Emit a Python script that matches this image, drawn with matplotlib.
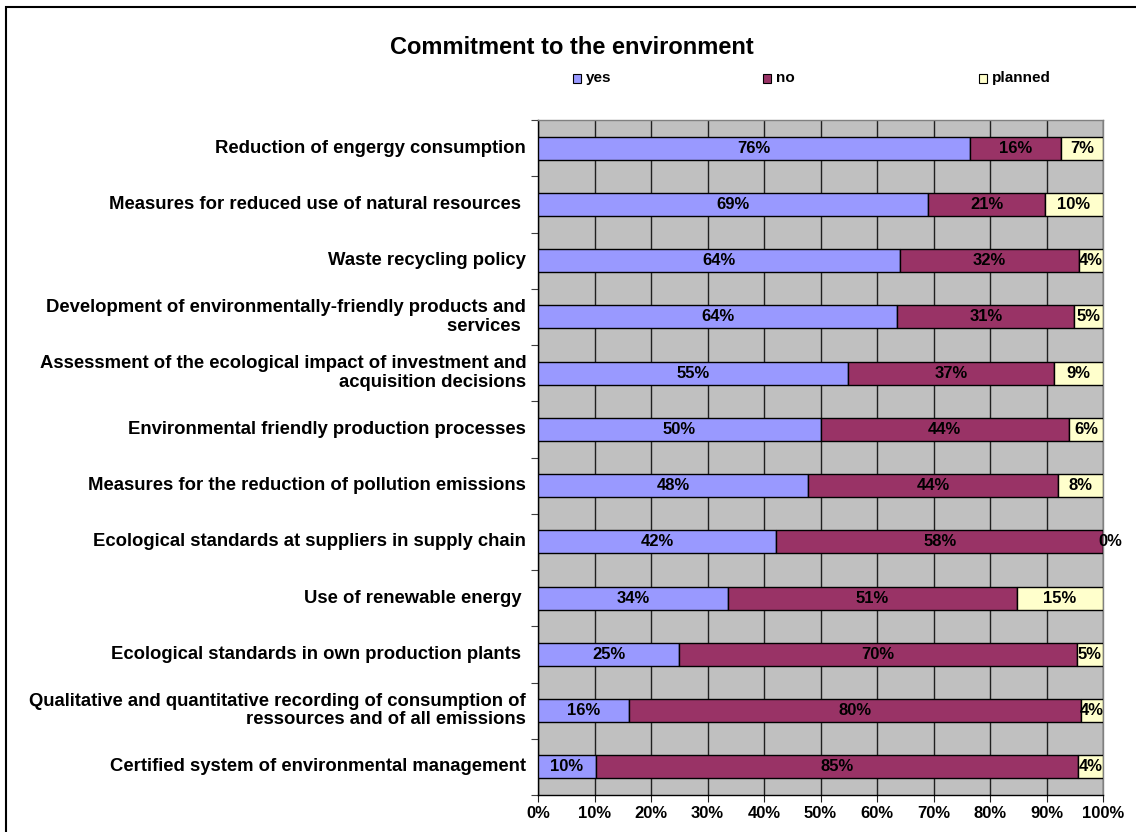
import matplotlib
matplotlib.use("Agg")
import matplotlib.pyplot as plt
from matplotlib.patches import Rectangle
import numpy as np

plt.rcParams['font.family'] = ['Liberation Sans', 'DejaVu Sans']

categories = [
    "Reduction of engergy consumption",
    "Measures for reduced use of natural resources ",
    "Waste recycling policy",
    "Development of environmentally-friendly products and\nservices ",
    "Assessment of the ecological impact of investment and\nacquisition decisions",
    "Environmental friendly production processes",
    "Measures for the reduction of pollution emissions",
    "Ecological standards at suppliers in supply chain",
    "Use of renewable energy ",
    "Ecological standards in own production plants ",
    "Qualitative and quantitative recording of consumption of\nressources and of all emissions",
    "Certified system of environmental management",
]
yes_share = [76.4, 69.1, 64.1, 63.6, 54.8, 50.0, 47.8, 42.2, 33.6, 25.0, 16.1, 10.2]
no_share = [16.2, 20.6, 31.6, 31.3, 36.6, 44.0, 44.3, 57.8, 51.2, 70.4, 80.0, 85.4]
planned_share = [7.4, 10.3, 4.3, 5.1, 8.6, 6.0, 7.9, 0.0, 15.2, 4.6, 3.9, 4.4]
series_names = ["yes", "no", "planned"]
series_colors = ["#9999FF", "#993366", "#FFFFCC"]
x_ticks = [0, 10, 20, 30, 40, 50, 60, 70, 80, 90, 100]

W, H = 1136, 832
fig = plt.figure(figsize=(W / 100, H / 100), dpi=100)
fig.patch.set_facecolor("white")

# outer chart frame
fig.patches.append(Rectangle((6 / W, -0.05), 1.2, 1 - 7 / H + 0.05,
                             transform=fig.transFigure, fill=False,
                             edgecolor="black", linewidth=1.5))

left, right, top, bottom = 538 / W, 1103 / W, 1 - 120 / H, 1 - 795 / H
ax = fig.add_axes([left, bottom, right - left, top - bottom])
ax.set_facecolor("#C0C0C0")

n = len(categories)
y = np.arange(n)
series = [yes_share, no_share, planned_share]
start = np.zeros(n)
for vals, name, col in zip(series, series_names, series_colors):
    vals = np.array(vals)
    ax.barh(y, vals, left=start, height=0.41, color=col, edgecolor="black",
            linewidth=1.0, label=name, zorder=3)
    for i, v in enumerate(vals):
        xc = start[i] + v / 2
        if v < 1:
            xc = start[i] + 1.3
        ax.text(xc, y[i], f"{v:.0f}%", ha="center", va="center",
                fontsize=12, fontweight="bold", color="black", zorder=4,
                clip_on=False)
    start += vals

ax.set_xlim(0, 100)
ax.set_ylim(n - 0.5, -0.5)
ax.set_xticks(x_ticks)
ax.set_xticklabels([f"{t}%" for t in x_ticks], fontsize=12, fontweight="bold")
ax.xaxis.grid(True, color="#202020", linewidth=1.0, zorder=1)
ax.set_axisbelow(True)

# category boundaries carry the y ticks; names sit at bar centres
ax.set_yticks(np.arange(n + 1) - 0.5)
ax.set_yticklabels([])
ax.tick_params(axis="y", length=5, direction="out", color="#404040")
ax.tick_params(axis="x", length=5, direction="out", pad=3, color="#202020")
for i, name in enumerate(categories):
    ax.text(-0.021, y[i], name, transform=ax.get_yaxis_transform(),
            ha="right", va="center", multialignment="right",
            fontsize=13.3, fontweight="bold", linespacing=1.1)

for s in ["left", "bottom"]:
    ax.spines[s].set_color("black")
    ax.spines[s].set_linewidth(1.0)
for s in ["top", "right"]:
    ax.spines[s].set_color("#808080")
    ax.spines[s].set_linewidth(1.0)

fig.text(572 / W, 1 - 47 / H, "Commitment to the environment", ha="center",
         va="center", fontsize=17, fontweight="bold")

# legend entries: swatch + bold label
legend_x = [577, 767, 983]
legend_y = 78
for xp, name, col in zip(legend_x, series_names, series_colors):
    fig.patches.append(Rectangle(((xp - 4) / W, 1 - (legend_y + 5) / H), 8 / W, 9 / H,
                                 transform=fig.transFigure, facecolor=col,
                                 edgecolor="black", linewidth=0.8))
    fig.text((xp + 9) / W, 1 - legend_y / H, name, ha="left", va="center",
             fontsize=11, fontweight="bold")

fig.savefig("out.png", dpi=100)
